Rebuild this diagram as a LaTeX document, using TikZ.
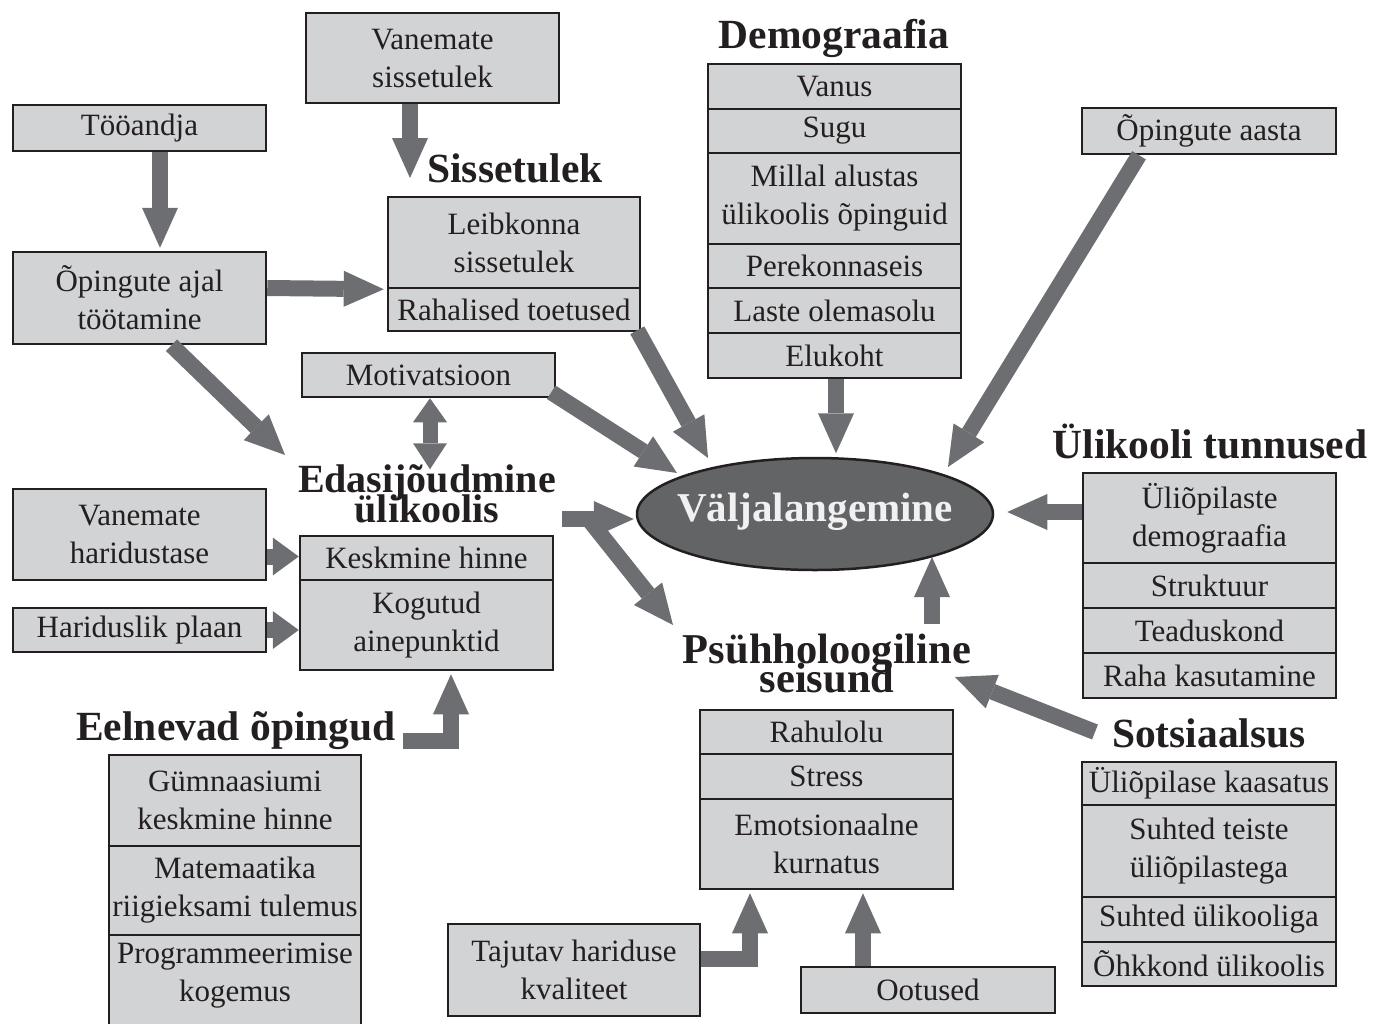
\documentclass[tikz,border=0pt]{standalone}
\usepackage{fontspec}
\setmainfont{Liberation Serif}
\usetikzlibrary{arrows.meta,calc,shapes.geometric}
\definecolor{boxfill}{HTML}{D1D3D4}
\definecolor{boxline}{HTML}{231F20}
\definecolor{arrc}{HTML}{6D6E71}
\definecolor{ellfill}{HTML}{636466}
\definecolor{elltext}{HTML}{F1F1F2}
\begin{document}
\begin{tikzpicture}[x=1pt,y=-1pt,
  cell/.style={draw=boxline, fill=boxfill, line width=2.5pt, rectangle, inner sep=0pt,
    align=center, font=\fontsize{31}{38}\selectfont, text=boxline},
  celltext/.style={inner sep=0pt, align=center, font=\fontsize{31}{38}\selectfont, text=boxline},
  ttl/.style={font=\fontsize{41.5}{40}\selectfont\bfseries, text=boxline, inner sep=0pt, anchor=base},
  arr/.style={draw=arrc, line width=16pt, line join=miter, -{Triangle[width=36pt,length=40pt,line width=0pt]}},
  sarr/.style={draw=arrc, line width=16pt, -{Triangle[width=38pt,length=26pt,line width=0pt]}},
  darr/.style={draw=arrc, line width=15pt, {Triangle[width=34pt,length=24pt,line width=0pt]}-{Triangle[width=34pt,length=26pt,line width=0pt]}},
]
\useasboundingbox (0,0) rectangle (1375,1023);

% ---- boxes ----
\node[cell, minimum width=253pt, minimum height=90pt] (vsin) at (432.5,58) {Vanemate\\sissetulek};
\node[cell, minimum width=253pt, minimum height=46pt] (too) at (139.5,128) {Tööandja};
\node[cell, minimum width=253pt, minimum height=92pt] (opaj) at (139.5,298) {Õpingute ajal\\töötamine};
\node[cell, minimum width=252pt, minimum height=91pt] (leib) at (514,242.5) {Leibkonna\\sissetulek};
\node[cell, minimum width=252pt, minimum height=43pt] (rah) at (514,309.5) {Rahalised toetused};
\node[cell, minimum width=253pt, minimum height=44pt] (motiv) at (428.5,375) {Motivatsioon};

\node[cell, minimum width=253pt, minimum height=45pt] (vanus) at (834.5,86.5) {Vanus};
\node[cell, minimum width=253pt, minimum height=44pt] (sugu) at (834.5,131) {Sugu};
\node[cell, minimum width=253pt, minimum height=91pt] (millal) at (834.5,198.5) {Millal alustas\\ülikoolis õpinguid};
\node[cell, minimum width=253pt, minimum height=44pt] (pere) at (834.5,266) {Perekonnaseis};
\node[cell, minimum width=253pt, minimum height=45pt] (laste) at (834.5,310.5) {Laste olemasolu};
\node[cell, minimum width=253pt, minimum height=45pt] (eluk) at (834.5,355.5) {Elukoht};

\node[cell, minimum width=254pt, minimum height=46pt] (opaasta) at (1209,131) {Õpingute aasta};

\node[ellipse, draw=boxline, fill=ellfill, line width=2.5pt, minimum width=356pt, minimum height=112pt,
  inner sep=0pt] (ell) at (815,514) {};
\node[inner sep=0pt, text=elltext, font=\fontsize{41}{41}\selectfont\bfseries] (ellt) at (815,512) {Väljalangemine};

\node[cell, minimum width=253pt, minimum height=90pt] (uldem) at (1209.5,518) {Üliõpilaste\\demograafia};
\node[cell, minimum width=253pt, minimum height=45pt] (strukt) at (1209.5,585.5) {Struktuur};
\node[cell, minimum width=253pt, minimum height=45pt] (teadus) at (1209.5,630.5) {Teaduskond};
\node[cell, minimum width=253pt, minimum height=45pt] (raha) at (1209.5,675.5) {Raha kasutamine};

\node[cell, minimum width=253pt, minimum height=91pt] (vhar) at (139.5,534.5) {Vanemate\\haridustase};
\node[cell, minimum width=253pt, minimum height=44pt] (hplaan) at (139.5,630) {Hariduslik plaan};
\node[cell, minimum width=253pt, minimum height=44pt] (kesk) at (426.5,558) {Keskmine hinne};
\node[cell, minimum width=253pt, minimum height=90pt] (kog) at (426.5,625) {Kogutud\\ainepunktid};

\node[cell, minimum width=252pt, minimum height=91pt] (gym) at (235,800.5) {Gümnaasiumi\\keskmine hinne};
\node[cell, minimum width=252pt, minimum height=89pt] (mat) at (235,890.5) {Matemaatika\\riigieksami tulemus};
\node[cell, minimum width=252pt, minimum height=110pt] (prog) at (235,990) {};
\node[celltext] (progt) at (235,976) {Programmeerimise\\kogemus};

\node[cell, minimum width=253pt, minimum height=44pt] (rahul) at (826.5,732) {Rahulolu};
\node[cell, minimum width=253pt, minimum height=45pt] (stress) at (826.5,776.5) {Stress};
\node[cell, minimum width=253pt, minimum height=90pt] (emo) at (826.5,844) {Emotsionaalne\\kurnatus};

\node[cell, minimum width=254pt, minimum height=43pt] (kaas) at (1209,783.5) {Üliõpilase kaasatus};
\node[cell, minimum width=254pt, minimum height=92pt] (suhtt) at (1209,851) {Suhted teiste\\üliõpilastega};
\node[cell, minimum width=254pt, minimum height=45pt] (suhtu) at (1209,919.5) {Suhted ülikooliga};
\node[cell, minimum width=254pt, minimum height=44pt] (ohk) at (1209,964) {Õhkkond ülikoolis};

\node[cell, minimum width=252pt, minimum height=92pt] (taj) at (574,970) {Tajutav hariduse\\kvaliteet};
\node[cell, minimum width=254pt, minimum height=46pt] (oot) at (928,990) {Ootused};

% ---- titles ----
\node[ttl] (tSiss) at (515,182) {Sissetulek};
\node[ttl] (tDemo) at (834,48) {Demograafia};
\node[ttl] (tUlik) at (1210,458) {Ülikooli tunnused};
\node[ttl, font=\fontsize{40}{40}\selectfont\bfseries] (tEdas1) at (427,492) {Edasijõudmine};
\node[ttl, font=\fontsize{40}{40}\selectfont\bfseries] (tEdas2) at (427,522) {ülikoolis};
\node[ttl] (tEel) at (236,740) {Eelnevad õpingud};
\node[ttl, font=\fontsize{42.5}{40}\selectfont\bfseries] (tPsy1) at (827,663) {Psühholoogiline};
\node[ttl, font=\fontsize{42.5}{40}\selectfont\bfseries] (tPsy2) at (827,692) {seisund};
\node[ttl] (tSots) at (1209,747) {Sotsiaalsus};

% ---- free arrow ends ----
\coordinate (t1) at (410,178);
\coordinate (t4) at (285,455);
\coordinate (t5) at (708,458);
\coordinate (t6) at (677,473);
\coordinate (t9) at (948,467);
\coordinate (fork) at (562,519);
\coordinate (t12) at (673,625);
\coordinate (s13) at (932,624);
\coordinate (s14) at (1095,732);
\coordinate (t14) at (955,677);
\coordinate (s17) at (403,741);

% ---- arrows ----
\draw[arr] (vsin.south -| t1) -- (t1);
\draw[arr] ($(too.south)+(20.5,0)$) -- ($(opaj.north)+(20.5,-3)$);
\draw[arr] ($(opaj.east)+(0,-10)$) -- ($(leib.south west)+(-3,0)$);
\draw[arr] ($(opaj.south)+(32,0)$) -- (t4);
\draw[arr] ($(rah.south east)+(-4,-2)$) -- (t5);
\draw[arr] ($(motiv.south east)+(-5,-6)$) -- (t6);
\draw[darr] ($(motiv.south)+(1.5,0)$) -- ($(motiv.south)+(1.5,71)$);
\draw[arr] ($(eluk.south)+(1.5,0)$) -- ($(eluk.south)+(1.5,74)$);
\draw[arr] ($(opaasta.south)+(-70,0)$) -- (t9);
\draw[arr] ($(uldem.west)+(0,-6)$) -- ($(ell.east)+(13,-2)$);
\draw[arr] (fork) -- ($(ell.west)+(-2,5)$);
\draw[arr] ($(fork)+(28,2)$) -- (t12);
\draw[arr] (s13) -- ($(ell.center)+(117,43)$);
\draw[arr] (s14) -- (t14);
\draw[sarr] ($(vhar.east)+(0,22)$) -- ($(kesk.west)+(0,-1.5)$);
\draw[sarr] (hplaan.east) -- (kog.west |- hplaan.east);
\draw[arr] (s17) -| ($(kog.south)+(24.5,3)$);
\draw[arr] ($(taj.east)+(0,-11)$) -| ($(emo.south)+(-76.5,3)$);
\draw[arr] ($(oot.north)+(-65,0)$) -- ($(emo.south)+(36.5,3)$);
\end{tikzpicture}
\end{document}
